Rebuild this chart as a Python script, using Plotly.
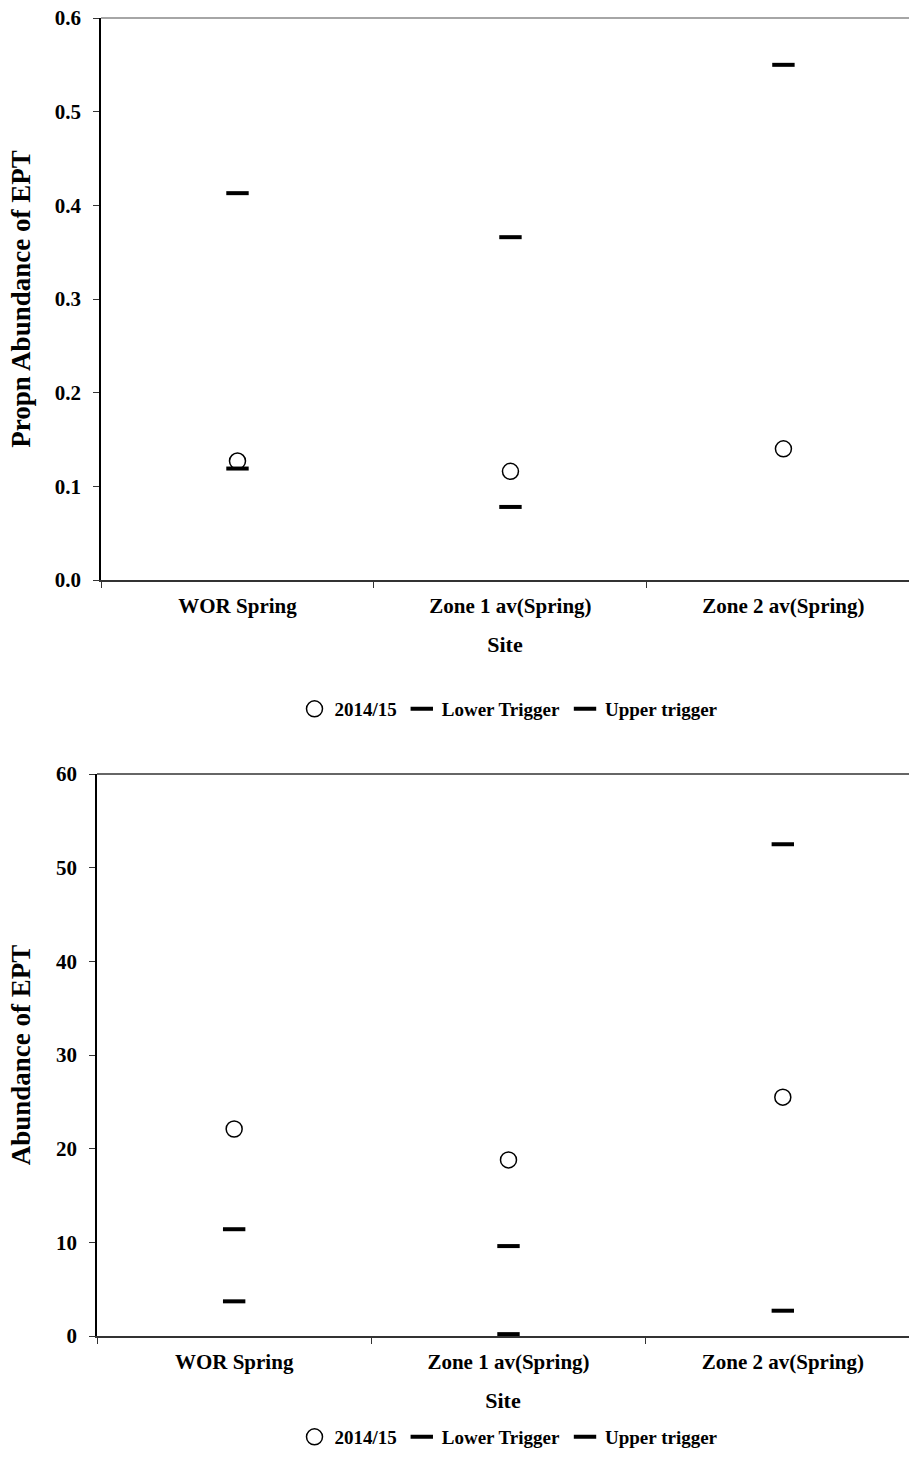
import plotly.graph_objects as go

sites = ["WOR Spring", "Zone 1 av(Spring)", "Zone 2 av(Spring)"]

prop_2014 = [0.127, 0.116, 0.140]
prop_lower = [0.119, 0.078, None]
prop_upper = [0.413, 0.366, 0.550]

abund_2014 = [22.1, 18.8, 25.5]
abund_lower = [3.7, 0.2, 2.7]
abund_upper = [11.4, 9.6, 52.5]

series_names = ["2014/15", "Lower Trigger", "Upper trigger"]

prop_ticks = [0.0, 0.1, 0.2, 0.3, 0.4, 0.5, 0.6]
prop_ticklabels = ["0.0", "0.1", "0.2", "0.3", "0.4", "0.5", "0.6"]
abund_ticks = [0, 10, 20, 30, 40, 50, 60]

FONT = "Liberation Serif"
W, H = 909, 1477
OFF = 0  # page body margin removed via post_script

fig = go.Figure()

def add_panel(vals, xa, ya, legend):
    obs, low, up = vals
    fig.add_trace(go.Scatter(
        x=sites, y=obs, mode="markers", name=series_names[0],
        xaxis=xa, yaxis=ya, legend=legend,
        marker=dict(symbol="circle-open", size=16, color="black",
                    line=dict(width=1.5, color="black"))))
    fig.add_trace(go.Scatter(
        x=sites, y=low, mode="markers", name=series_names[1],
        xaxis=xa, yaxis=ya, legend=legend,
        marker=dict(symbol="line-ew", size=16, color="black",
                    line=dict(width=4, color="black"))))
    fig.add_trace(go.Scatter(
        x=sites, y=up, mode="markers", name=series_names[2],
        xaxis=xa, yaxis=ya, legend=legend,
        marker=dict(symbol="line-ew", size=16, color="black",
                    line=dict(width=4, color="black"))))

add_panel((prop_2014, prop_lower, prop_upper), "x", "y", "legend")
add_panel((abund_2014, abund_lower, abund_upper), "x2", "y2", "legend2")

tickfont = dict(family=FONT, size=21, color="black", weight="bold")

def ydom(top_px, bot_px):
    return [1 - (bot_px - OFF) / H, 1 - (top_px - OFF) / H]

xcommon = dict(
    type="category", range=[-0.5, 2.46], tickson="boundaries",
    ticks="outside", ticklen=6, tickcolor="#333", tickwidth=1.2, ticklabelstandoff=6,
    showline=True, linecolor="#333", linewidth=1.5, automargin=False,
    showgrid=False, zeroline=False, tickfont=tickfont,
    title=dict(text="Site", font=dict(family=FONT, size=22, color="black", weight="bold"),
               standoff=20),
)

ycommon = dict(
    ticks="outside", ticklen=6, tickcolor="#333", tickwidth=1.2, ticklabelstandoff=8,
    showline=True, linecolor="black", linewidth=1.5, automargin=False,
    showgrid=False, zeroline=False, tickfont=tickfont,
)

legfont = dict(family=FONT, size=19, color="black", weight="bold")

fig.update_layout(
    width=W, height=H,
    margin=dict(l=0, r=0, t=0, b=0),
    paper_bgcolor="white", plot_bgcolor="white",
    font=dict(family=FONT, color="black"),
    xaxis=dict(domain=[(101 - OFF) / W, 1], anchor="y", **xcommon),
    xaxis2=dict(domain=[(97 - OFF) / W, 1], anchor="y2", **xcommon),
    yaxis=dict(
        domain=ydom(18, 580), anchor="x", range=[0, 0.6],
        tickmode="array", tickvals=prop_ticks, ticktext=prop_ticklabels,
        title=dict(text="Propn Abundance of EPT",
                   font=dict(family=FONT, size=27, color="black", weight="bold"), standoff=16),
        **ycommon,
    ),
    yaxis2=dict(
        domain=ydom(774, 1336), anchor="x2", range=[0, 60],
        tickmode="array", tickvals=abund_ticks,
        title=dict(text="Abundance of EPT",
                   font=dict(family=FONT, size=27, color="black", weight="bold"), standoff=18),
        **ycommon,
    ),
    legend=dict(orientation="h", x=(505 - OFF + 4) / W, xanchor="center",
                y=1 - (709 - OFF) / H, yanchor="middle",
                font=legfont, itemwidth=30, bgcolor="rgba(0,0,0,0)"),
    legend2=dict(orientation="h", x=(505 - OFF + 4) / W, xanchor="center",
                 y=1 - (1437 - OFF) / H, yanchor="middle",
                 font=legfont, itemwidth=30, bgcolor="rgba(0,0,0,0)"),
    showlegend=True,
    shapes=[
        dict(type="line", xref="x domain", yref="y domain", x0=0, x1=1, y0=1, y1=1,
             line=dict(color="#888", width=1.5)),
        dict(type="line", xref="x2 domain", yref="y2 domain", x0=0, x1=1, y0=1, y1=1,
             line=dict(color="#333", width=1.5)),
    ],
)

fig.write_html("out.html", config={"displayModeBar": False},
               post_script="document.body.style.margin='0';")
